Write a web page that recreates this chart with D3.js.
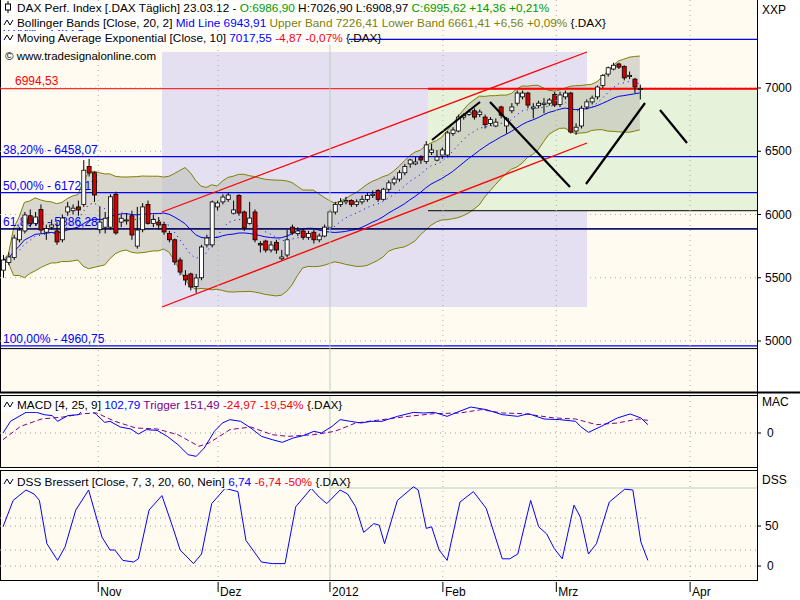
<!DOCTYPE html>
<html><head><meta charset="utf-8">
<script src="https://cdn.jsdelivr.net/npm/d3@7"></script>
<style>body{margin:0;background:#fff}text{font-family:Arial,"Liberation Sans",sans-serif}</style>
</head><body><svg id="c" width="800" height="600"></svg>
<script>
// DAX daily candles [open, high, low, close]
var candles = [
[5560,5680,5500,5640],[5620,5700,5600,5664],[5660,5840,5640,5814],[5800,5900,5780,5877],[5870,6020,5850,5996],
[5990,6040,5900,5930],[5930,6020,5910,5980],[6040,6080,5850,5877],[5860,5920,5800,5890],[5900,5960,5880,5917],
[5870,5940,5760,5783],[5800,6000,5780,5972],[6020,6100,5990,6060],[6030,6080,6000,6050],[6060,6110,5990,6036],
[6080,6430,6060,6350],[6380,6440,6300,6328],[6330,6340,6100,6154],[5880,6060,5850,5940],[5900,6020,5850,5970],
[5900,6160,5880,6140],[6160,6180,5840,5854],[5940,6000,5900,5970],[5950,6010,5920,5957],[5990,6030,5800,5838],
[5750,6060,5730,5877],[5880,6090,5860,6060],[6080,6110,5920,5930],[5930,6000,5900,5960],[5940,5980,5880,5917],
[5920,5940,5840,5862],[5850,5870,5780,5800],[5800,5810,5600,5625],[5640,5660,5520,5545],[5520,5560,5440,5482],
[5530,5540,5400,5427],[5430,5530,5380,5498],[5500,5760,5480,5743],[5760,5840,5740,5814],[5760,6110,5740,6099],
[6060,6110,6030,6091],[6100,6160,6080,6138],[6120,6170,6100,6154],[6010,6110,6000,6036],[6150,6160,5990,6012],
[6020,6030,5870,5893],[5930,6100,5920,5972],[6020,6040,5780,5800],[5770,5790,5700,5759],[5790,5800,5700,5719],
[5720,5790,5700,5759],[5780,5800,5690,5719],[5650,5720,5640,5664],[5680,5880,5660,5800],[5900,5920,5840,5854],
[5850,5900,5830,5870],[5870,5890,5800,5820],[5820,5870,5800,5850],[5860,5880,5770,5800],[5800,5850,5780,5830],
[5830,5920,5820,5900],[5900,6040,5890,6020],[6020,6100,6000,6080],[6080,6130,6060,6100],[6100,6140,6080,6110],
[6110,6120,6060,6080],[6080,6120,6060,6100],[6100,6150,6080,6120],[6120,6170,6100,6150],[6150,6190,6130,6160],
[6190,6200,6100,6120],[6120,6210,6110,6200],[6200,6270,6180,6250],[6250,6300,6230,6280],[6280,6350,6260,6330],
[6330,6400,6310,6380],[6400,6440,6370,6431],[6400,6460,6390,6415],[6450,6470,6400,6431],[6420,6580,6400,6550],
[6490,6560,6470,6510],[6430,6510,6420,6455],[6470,6530,6440,6510],[6470,6660,6450,6645],[6640,6690,6620,6668],
[6660,6790,6650,6770],[6770,6800,6750,6785],[6790,6830,6780,6810],[6820,6840,6750,6770],[6790,6830,6770,6810],
[6770,6790,6680,6710],[6720,6770,6700,6750],[6700,6760,6690,6730],[6850,6860,6760,6785],[6700,6770,6640,6760],
[6820,6880,6800,6850],[6880,6980,6860,6960],[6930,6980,6910,6960],[6960,6970,6840,6865],[6840,6880,6760,6850],
[6860,6900,6840,6880],[6870,6920,6800,6880],[6880,6920,6860,6905],[6950,6970,6850,6865],[6870,6970,6850,6945],
[6930,6980,6910,6960],[6960,6970,6640,6652],[6660,6720,6630,6690],[6700,6860,6680,6840],[6850,6910,6830,6890],
[6890,6940,6870,6920],[6930,7020,6910,7008],[7020,7110,7000,7100],[7110,7170,7090,7160],[7150,7200,7140,7180],
[7190,7200,7150,7165],[7170,7180,7060,7080],[7090,7130,7070,7100],[7070,7080,6960,7008],[6986.9,7026.9,6908.97,6995.62]
];
var monthLabels = ["Nov","Dez","2012","Feb","Mrz","Apr"];
var monthDays = [17.8, 40.2, 61.1, 82.2, 103.4, 128.4];
var priceTicks = [5000, 5500, 6000, 6500, 7000];
var fibLevels = [7383.6, 6458.07, 6172.17, 5886.28, 4960.75];
var fibLabels = ["0,00% - 7383,6", "38,20% - 6458,07", "50,00% - 6172,17", "61,80% - 5886,28", "100,00% - 4960,75"];
var macdDays = [0,1.4,4.3,6.3,7.7,9.2,10.2,12.1,14.1,15,16,17.5,19,20,21.9,23.9,25.3,26.8,28.8,30.7,32.7,34.6,36.1,37.6,39.5,41,42.4,44.4,46.3,48.3,50.3,52.2,54.2,56.1,58.1,59.5,61.5,63,64.9,66.9,68.8,70.8,73.7,76.7,78.6,80.6,83,84.5,87.4,90.3,93.3,96.2,98.2,101.1,104,107,107.9,109.4,111.8,114.8,117.2,119.2,120.5];
var macdVals = [0,146,258,258,229,217,146,217,229,292,313,229,133,146,75,50,-13,42,33,-42,-146,-271,-292,-188,21,125,167,146,63,-42,-83,-117,-63,-33,21,0,83,167,146,125,146,146,208,258,250,258,208,250,325,292,229,208,242,175,167,146,83,8,83,188,238,188,104];
var trigDays = [0,3.3,7.2,11.2,15,17.5,20.9,24.8,28.8,32.7,36.6,38.5,42.4,46.3,50.3,53.2,58.1,62,65.9,69.8,75.7,80.6,85.4,89.4,93.3,97.2,103,107,110.9,114.8,118.7,120.5];
var trigVals = [-83,83,175,200,242,250,146,63,50,-21,-167,-125,42,75,-21,-42,-21,21,125,158,208,242,250,292,250,242,188,175,104,125,175,158];
var dssDays = [0,1.9,4.3,5.8,6.8,8.2,10.2,11.6,13.6,16,18.5,20,20.9,22.4,24.4,25.3,27.3,29.7,31.7,33.1,35.6,37.1,39,41.5,43.9,45.4,48.3,50.3,52.7,54.7,57.6,59.1,60.5,63,64.4,65.9,67.4,69.3,70.3,71.3,73.7,76.7,77.6,79.1,80.1,81.5,83,85.4,87.9,90.3,93.3,94.7,96.2,98.6,100.1,101.6,103,104.5,106.7,107.9,109.4,110.9,113.3,116.2,117.7,119.2,120.5];
var dssVals = [49,82,95,90,82,28,7,24,70,95,36,20,20,7,5,9,70,88,49,20,3,15,78,97,93,32,5,3,3,74,97,86,78,95,90,74,42,53,51,28,82,99,95,47,49,20,7,80,93,72,9,9,15,82,49,40,22,9,76,61,15,28,80,96,95,30,7];

var svg = d3.select("#c");
var W = 757;
var x = d3.scaleLinear().domain([0, 140.9]).range([3, W]);
var y = d3.scaleLinear().domain([5000, 7000]).range([341, 88]);
var yM = d3.scaleLinear().domain([0, 300]).range([433, 409]);
var yD = d3.scaleLinear().domain([0, 100]).range([566, 486]);
var bg = "#fffbf0";

// panels
svg.append("rect").attr("x",0).attr("y",0).attr("width",W).attr("height",392).attr("fill",bg);
svg.append("rect").attr("x",0.5).attr("y",395.5).attr("width",W).attr("height",72).attr("fill",bg).attr("stroke","#000");
svg.append("rect").attr("x",0.5).attr("y",470.5).attr("width",W).attr("height",110).attr("fill",bg).attr("stroke","#000");
svg.append("line").attr("x1",0).attr("x2",800).attr("y1",392.5).attr("y2",392.5).attr("stroke","#000").attr("stroke-width",2);
svg.append("line").attr("x1",W+0.5).attr("x2",W+0.5).attr("y1",0).attr("y2",581).attr("stroke","#000");
svg.append("line").attr("x1",0.5).attr("x2",0.5).attr("y1",0).attr("y2",392).attr("stroke","#000");

// grid
var main = svg.append("g");
priceTicks.forEach(function(p){
  main.append("line").attr("x1",0).attr("x2",W).attr("y1",y(p)).attr("y2",y(p))
    .attr("stroke","#aaa").attr("stroke-dasharray","1,4");
});
monthDays.forEach(function(d,i){
  [[0,392],[396,467],[471,580]].forEach(function(r){
    svg.append("line").attr("x1",x(d)).attr("x2",x(d)).attr("y1",r[0]).attr("y2",r[1])
      .attr("stroke", i==2 ? "#b8d0b8" : "#aaa").attr("stroke-dasharray", i==2 ? null : "1,4");
  });
});

// shaded zones
main.append("rect").attr("x",162).attr("y",52).attr("width",425).attr("height",255).attr("fill","#e4e0f2");
main.append("rect").attr("x",428).attr("y",y(6994.53)).attr("width",W-428).attr("height",y(6030)-y(6994.53)).attr("fill","#e6f2da");

// bollinger + ema from closes
var closes = candles.map(function(d){return d[3];});
var boll = closes.map(function(c,i){
  var w = closes.slice(Math.max(0,i-19), i+1);
  var m = d3.mean(w), s = d3.deviation(w) || 0;
  return {i:i, mid:m, up:m+2*s, lo:m-2*s};
});
var ema = [], k = 2/11;
closes.forEach(function(c,i){ ema.push(i==0 ? c : c*k + ema[i-1]*(1-k)); });

main.append("path").datum(boll).attr("fill","#c0c0b8").attr("fill-opacity",0.6)
  .attr("d", d3.area().x(function(d){return x(d.i);}).y0(function(d){return y(d.lo);}).y1(function(d){return y(d.up);}));
["up","lo"].forEach(function(key){
  main.append("path").datum(boll).attr("fill","none").attr("stroke","#808000")
    .attr("d", d3.line().x(function(d){return x(d.i);}).y(function(d){return y(d[key]);}));
});
main.append("path").datum(boll).attr("fill","none").attr("stroke","#0000ff")
  .attr("d", d3.line().x(function(d){return x(d.i);}).y(function(d){return y(d.mid);}));
main.append("path").datum(ema).attr("fill","none").attr("stroke","#0000ff").attr("stroke-dasharray","1,4")
  .attr("d", d3.line().x(function(d,i){return x(i);}).y(function(d){return y(d);}));

// fib lines
fibLevels.forEach(function(p,i){
  main.append("line").attr("x1",0).attr("x2",W).attr("y1",y(p)).attr("y2",y(p)).attr("stroke","#0000ff").attr("stroke-width",1.3);
  main.append("text").attr("x",3).attr("y",y(p)-3).attr("font-size",12).attr("fill","#0000ff").text(fibLabels[i]);
});
main.append("line").attr("x1",0).attr("x2",W).attr("y1",y(5890)+0.5).attr("y2",y(5890)+0.5).attr("stroke","#000");
main.append("line").attr("x1",428).attr("x2",W).attr("y1",y(6030)).attr("y2",y(6030)).attr("stroke","#000");
main.append("line").attr("x1",0).attr("x2",W).attr("y1",y(4940)).attr("y2",y(4940)).attr("stroke","#000");
main.append("line").attr("x1",0).attr("x2",W).attr("y1",y(6994.53)).attr("y2",y(6994.53)).attr("stroke","#f00");
main.append("line").attr("x1",428).attr("x2",W).attr("y1",y(6994.53)).attr("y2",y(6994.53)).attr("stroke","#f00").attr("stroke-width",2);
main.append("text").attr("x",15).attr("y",y(6994.53)-4).attr("font-size",12).attr("fill","#f00").text("6994,53");

// channel
main.append("line").attr("x1",162).attr("y1",212).attr("x2",587).attr("y2",52).attr("stroke","#f00").attr("stroke-width",1.3);
main.append("line").attr("x1",162).attr("y1",307).attr("x2",587).attr("y2",143).attr("stroke","#f00").attr("stroke-width",1.3);

// candles
var cg = main.append("g").selectAll("g").data(candles).enter().append("g");
cg.append("line").attr("x1",function(d,i){return x(i)+0.5;}).attr("x2",function(d,i){return x(i)+0.5;})
  .attr("y1",function(d){return y(d[1]);}).attr("y2",function(d){return y(d[2]);}).attr("stroke","#000");
cg.append("rect").attr("x",function(d,i){return x(i)-1.5;}).attr("width",4)
  .attr("y",function(d){return y(Math.max(d[0],d[3]));})
  .attr("height",function(d){return Math.max(1,Math.abs(y(d[0])-y(d[3])));})
  .attr("fill",function(d){return d[3]>=d[0] ? "#fff" : "#d00000";}).attr("stroke","#000").attr("stroke-width",0.8);

// hand-drawn trend lines
[[432,140,480,102],[490,102,570,187],[586,184,645,103],[660,110,687,143]].forEach(function(l){
  main.append("line").attr("x1",l[0]).attr("y1",l[1]).attr("x2",l[2]).attr("y2",l[3]).attr("stroke","#000").attr("stroke-width",2.2);
});

// MACD panel
svg.append("line").attr("x1",0).attr("x2",W).attr("y1",yM(0)).attr("y2",yM(0)).attr("stroke","#999").attr("stroke-dasharray","1,4");
svg.append("path").datum(d3.zip(trigDays,trigVals)).attr("fill","none").attr("stroke","#800080").attr("stroke-dasharray","5,3")
  .attr("d", d3.line().x(function(d){return x(d[0]);}).y(function(d){return yM(d[1]);}));
svg.append("path").datum(d3.zip(macdDays,macdVals)).attr("fill","none").attr("stroke","#0000ff")
  .attr("d", d3.line().x(function(d){return x(d[0]);}).y(function(d){return yM(d[1]);}));

// DSS panel
[0,20,50,60].forEach(function(v){
  svg.append("line").attr("x1",0).attr("x2", v==60 ? 648 : W).attr("y1",yD(v)).attr("y2",yD(v)).attr("stroke","#999").attr("stroke-dasharray","1,4");
});
svg.append("line").attr("x1",x(61.1)).attr("x2",W).attr("y1",yD(100)+2).attr("y2",yD(100)+2).attr("stroke","#b8d0b8");
svg.append("path").datum(d3.zip(dssDays,dssVals)).attr("fill","none").attr("stroke","#0000ff")
  .attr("d", d3.line().x(function(d){return x(d[0]);}).y(function(d){return yD(d[1]);}));

// right axes
var ra = svg.append("g").attr("font-size",12);
ra.append("text").attr("x",762).attr("y",14).text("XXP");
priceTicks.forEach(function(p){
  ra.append("line").attr("x1",W).attr("x2",W+4).attr("y1",y(p)).attr("y2",y(p)).attr("stroke","#000");
  ra.append("text").attr("x",765).attr("y",y(p)+4).text(p);
});
ra.append("text").attr("x",762).attr("y",406).text("MAC");
ra.append("line").attr("x1",W).attr("x2",W+4).attr("y1",yM(0)).attr("y2",yM(0)).attr("stroke","#000");
ra.append("text").attr("x",767).attr("y",yM(0)+4).text("0");
ra.append("text").attr("x",762).attr("y",484).text("DSS");
[0,50].forEach(function(v){
  ra.append("line").attr("x1",W).attr("x2",W+4).attr("y1",yD(v)).attr("y2",yD(v)).attr("stroke","#000");
  ra.append("text").attr("x",v ? 765 : 767).attr("y",yD(v)+4).text(v);
});

// bottom month axis
monthDays.forEach(function(d,i){
  svg.append("line").attr("x1",x(d)).attr("x2",x(d)).attr("y1",582).attr("y2",592).attr("stroke","#000");
  svg.append("text").attr("x",x(d)+2).attr("y",596).attr("font-size",12).text(monthLabels[i]);
});

// legends
function legend(yy, parts, icon, w){
  svg.append("rect").attr("x",1).attr("y",yy-11).attr("width",w).attr("height",14).attr("fill","#fff");
  var t = svg.append("text").attr("x",17).attr("y",yy).attr("font-size",11.8);
  parts.forEach(function(p){ t.append("tspan").attr("fill",p[1]).text(p[0]); });
  if(icon=="c"){
    svg.append("line").attr("x1",8).attr("x2",8).attr("y1",yy-11).attr("y2",yy+1).attr("stroke","#000");
    svg.append("rect").attr("x",5.5).attr("y",yy-8).attr("width",5).attr("height",6).attr("fill","#fff").attr("stroke","#000");
  } else {
    svg.append("path").attr("d","M4,"+(yy-2)+" l3,-5 l3,5 l3,-5").attr("fill","none").attr("stroke","#000");
  }
}
legend(12,[["DAX Perf. Index [.DAX  Täglich] 23.03.12 - ","#000"],["O:6986,90 ","#009900"],["H:7026,90 L:6908,97 ","#000"],["C:6995,62 +14,36 +0,21%","#009900"]],"c",420);
legend(27,[["Bollinger Bands [Close, 20, 2] ","#000"],["Mid Line 6943,91 ","#0000ff"],["Upper Band 7226,41 Lower Band 6661,41 +6,56 +0,09% ","#808000"],["{.DAX}","#000"]],"w",522);
legend(42,[["Moving Average Exponential [Close, 10] ","#000"],["7017,55 ","#0000ff"],["-4,87 -0,07% ","#f00"],["{.DAX}","#000"]],"w",348);
svg.append("text").attr("x",5).attr("y",60).attr("font-size",11.5).text("© www.tradesignalonline.com");
legend(409,[["MACD [4, 25, 9] ","#000"],["102,79 ","#0000ff"],["Trigger 151,49 ","#800080"],["-24,97 -19,54% ","#f00"],["{.DAX}","#000"]],"w",304);
legend(486,[["DSS Bressert [Close, 7, 3, 20, 60, Nein] ","#000"],["6,74 ","#0000ff"],["-6,74 -50% ","#f00"],["{.DAX}","#000"]],"w",318);
</script></body></html>
